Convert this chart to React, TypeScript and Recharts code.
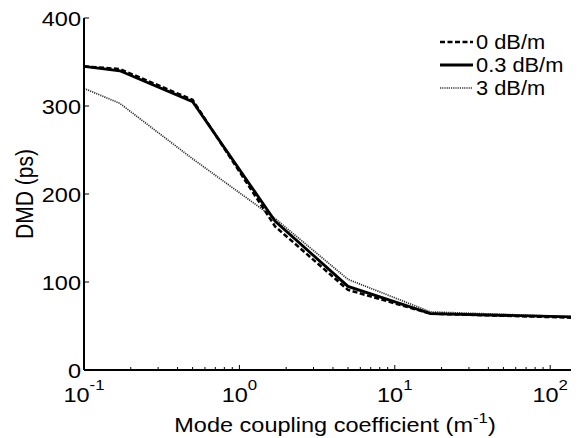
import { LineChart, Line, XAxis, YAxis, Legend } from "recharts";

// coupling coefficient (1/m)
const coupling = [0.1, 0.17, 0.5, 1.7, 5, 17, 170];
// DMD in ps for each loss value
const dmd0 = [345, 342, 307, 163, 91, 64, 59];
const dmd03 = [345, 340, 305, 169, 95, 64, 60];
const dmd3 = [320, 303, 240, 172, 103, 66, 60];

const xTicks = [
    0.1, 0.2, 0.3, 0.4, 0.5, 0.6, 0.7, 0.8, 0.9,
    1, 2, 3, 4, 5, 6, 7, 8, 9,
    10, 20, 30, 40, 50, 60, 70, 80, 90,
    100,
];
const yTicks = [0, 100, 200, 300, 400];

const series = [
    { key: "d3", label: "3 dB/m", color: "#333", width: 1.7, dash: "1.2 1" },
    { key: "d0", label: "0 dB/m", color: "#000", width: 2.5, dash: "5 2.5" },
    { key: "d03", label: "0.3 dB/m", color: "#000", width: 2.8, dash: undefined },
];
const legendOrder = ["d0", "d03", "d3"];

const data = coupling.map((c, i) => ({ c, d0: dmd0[i], d03: dmd03[i], d3: dmd3[i] }));

const FONT = "'Liberation Sans', Arial, sans-serif";
const SX = 1.12;

const isDecade = (v: number) => {
    const l = Math.log10(v);
    return Math.abs(l - Math.round(l)) < 1e-9;
};

const BottomTick = (props: any) => {
    const { x, y, payload } = props;
    const v = payload.value;
    const major = isDecade(v);
    return (
        <g>
            <line x1={x} x2={x} y1={y} y2={y - (major ? 5 : 3)} stroke="#000" strokeWidth={1} />
            {major && (
                <text
                    transform={`translate(${x},${y + 32}) scale(${SX},1)`}
                    textAnchor="middle"
                    fontFamily={FONT}
                    fontSize={21}
                    fill="#000"
                >
                    10
                    <tspan dy={-12} fontSize={15}>
                        {Math.round(Math.log10(v))}
                    </tspan>
                </text>
            )}
        </g>
    );
};

const TopTick = (props: any) => {
    const { x, y, payload } = props;
    const major = isDecade(payload.value);
    return <line x1={x} x2={x} y1={y} y2={y + (major ? 5 : 3)} stroke="#000" strokeWidth={1} />;
};

const LeftTick = (props: any) => {
    const { x, y, payload } = props;
    return (
        <g>
            <line x1={x} x2={x + 5} y1={y} y2={y} stroke="#000" strokeWidth={1} />
            <text
                transform={`translate(${x - 3},${y + 8}) scale(${SX},1)`}
                textAnchor="end"
                fontFamily={FONT}
                fontSize={21}
                fill="#000"
            >
                {payload.value}
            </text>
        </g>
    );
};

const XTitle = (props: any) => {
    const { viewBox } = props;
    const cx = viewBox.x + viewBox.width / 2;
    return (
        <text
            transform={`translate(${cx},${viewBox.y + 61.5}) scale(${SX},1)`}
            textAnchor="middle"
            fontFamily={FONT}
            fontSize={21}
            fill="#000"
        >
            Mode coupling coefficient (m
            <tspan dy={-9} fontSize={15}>-1</tspan>
            <tspan dy={9}>)</tspan>
        </text>
    );
};

const YTitle = (props: any) => {
    const { viewBox } = props;
    const cy = viewBox.y + viewBox.height / 2;
    return (
        <text
            transform={`translate(25,${cy}) rotate(-90) scale(1,${SX})`}
            textAnchor="middle"
            fontFamily={FONT}
            fontSize={21}
            fill="#000"
        >
            DMD (ps)
        </text>
    );
};

const LegendBox = () => (
    <svg width={150} height={74} style={{ display: "block" }}>
        {legendOrder.map((k, i) => {
            const s = series.find((d) => d.key === k)!;
            const ry = [12, 35, 58][i];
            return (
                <g key={k}>
                    <line
                        x1={10}
                        x2={43}
                        y1={ry}
                        y2={ry}
                        stroke={s.color}
                        strokeWidth={s.width}
                        strokeDasharray={s.dash}
                    />
                    <text
                        transform={`translate(46,${ry + 7}) scale(${SX},1)`}
                        fontFamily={FONT}
                        fontSize={19.5}
                        fill="#000"
                    >
                        {s.label}
                    </text>
                </g>
            );
        })}
    </svg>
);

export default function App() {
    return (
        <div style={{ width: 571, height: 430, overflow: "hidden", background: "#fff" }}>
            <LineChart width={580} height={430} data={data} margin={{ top: 10, right: 2, bottom: 8, left: 0 }}>
                <XAxis
                    dataKey="c"
                    type="number"
                    scale="log"
                    domain={[0.1, 170]}
                    allowDataOverflow
                    ticks={xTicks}
                    interval={0}
                    tickSize={0}
                    tickMargin={0}
                    tickLine={false}
                    height={60}
                    axisLine={{ stroke: "#000", strokeWidth: 2 }}
                    tick={<BottomTick />}
                    label={{ content: <XTitle /> } as any}
                />
                <XAxis
                    xAxisId="top"
                    orientation="top"
                    dataKey="c"
                    type="number"
                    scale="log"
                    domain={[0.1, 170]}
                    allowDataOverflow
                    ticks={xTicks}
                    interval={0}
                    tickSize={0}
                    tickMargin={0}
                    tickLine={false}
                    height={0}
                    axisLine={{ stroke: "#000", strokeWidth: 2 }}
                    tick={<TopTick />}
                />
                <YAxis
                    type="number"
                    domain={[0, 400]}
                    ticks={yTicks}
                    interval={0}
                    width={76}
                    tickSize={0}
                    tickMargin={0}
                    tickLine={false}
                    axisLine={{ stroke: "#000", strokeWidth: 2 }}
                    tick={<LeftTick />}
                    label={{ content: <YTitle /> } as any}
                />
                <Legend
                    layout="horizontal"
                    align="center"
                    verticalAlign="middle"
                    content={<LegendBox />}
                    wrapperStyle={{ left: 422, top: 22, width: 150 }}
                />
                {series.map((s) => (
                    <Line
                        key={s.key}
                        dataKey={s.key}
                        name={s.label}
                        stroke={s.color}
                        strokeWidth={s.width}
                        strokeDasharray={s.dash}
                        dot={false}
                        activeDot={false}
                        isAnimationActive={false}
                        strokeLinejoin="miter"
                    />
                ))}
            </LineChart>
        </div>
    );
}
